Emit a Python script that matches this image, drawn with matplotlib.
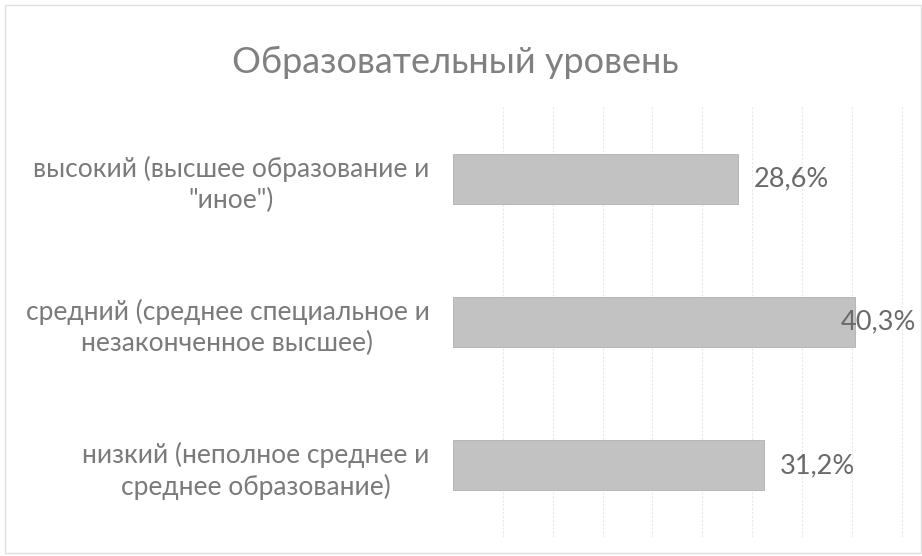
import matplotlib
matplotlib.use("Agg")
import matplotlib.pyplot as plt
from matplotlib.patches import Rectangle

categories = [
    'высокий (высшее образование и\n"иное")',
    "средний (среднее специальное и\nнезаконченное высшее)",
    "низкий (неполное среднее и\nсреднее образование)",
]
values = [28.6, 40.3, 31.2]
value_labels = ["28,6%", "40,3%", "31,2%"]
title = "Образовательный уровень"

plt.rcParams["font.family"] = ["Lato", "DejaVu Sans"]
TXT = "#7a7a7a"

W, H = 922, 556
fig = plt.figure(figsize=(W / 100, H / 100), dpi=100)
fig.patches.append(Rectangle((5 / W, 3 / H), (W - 6) / W, (H - 8) / H, transform=fig.transFigure,
                             fill=False, edgecolor="#e0e0e0", linewidth=1))

ax = fig.add_axes([453 / W, (H - 537) / H, (W - 453) / W, 430 / H])
y = list(range(len(categories)))
ax.barh(y, values, height=0.35, color="#c2c2c2", edgecolor="#b0b0b0", linewidth=0.6, zorder=2)
ax.set_ylim(len(categories) - 0.5, -0.5)
ax.set_xlim(0, 469 / 9.97)
ax.set_xticks([5 * i for i in range(1, 10)])
ax.tick_params(axis="x", length=0, labelbottom=False)
ax.tick_params(axis="y", length=0, pad=17, labelsize=19, labelcolor=TXT)
ax.set_yticks(y)
ax.set_yticklabels(categories, ha="right", multialignment="center", linespacing=1.3)
ax.grid(axis="x", color="#e8e8e8", linewidth=0.8, linestyle=(0, (2, 1.5)), zorder=0)
for s in ax.spines.values():
    s.set_visible(False)

offsets = [11, -10, 11]
for yi, v, lab, off in zip(y, values, value_labels, offsets):
    ax.annotate(lab, (v, yi), xytext=(off, 0), textcoords="offset points",
                ha="left", va="center", fontsize=19.5, color="#6a6a6a", zorder=3)

fig.text(455 / W, 1 - 62 / H, title, ha="center", va="center", fontsize=26, color="#808080")

fig.savefig("out.png", dpi=100)
